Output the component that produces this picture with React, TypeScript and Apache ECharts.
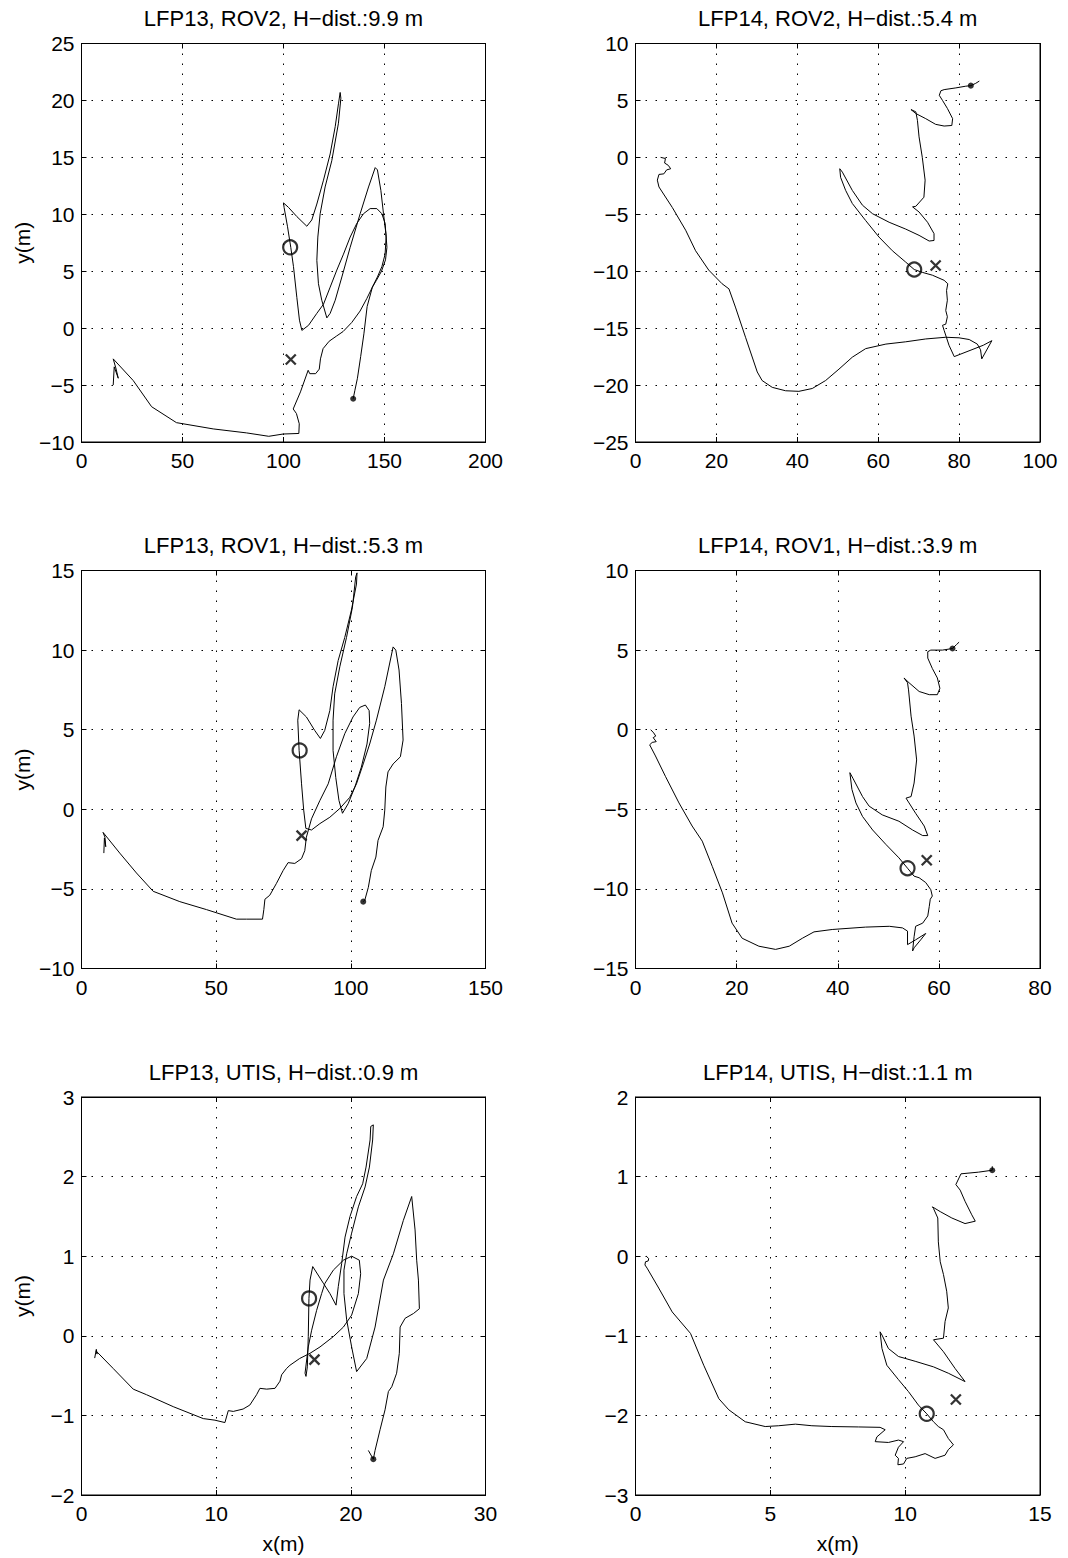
import React, { useEffect, useRef } from 'react';
import * as echarts from 'echarts';

type Pt = [number, number];

// Panel titles, left-to-right, top-to-bottom
const panelTitles = [
  'LFP13, ROV2, H\u2212dist.:9.9 m',
  'LFP14, ROV2, H\u2212dist.:5.4 m',
  'LFP13, ROV1, H\u2212dist.:5.3 m',
  'LFP14, ROV1, H\u2212dist.:3.9 m',
  'LFP13, UTIS, H\u2212dist.:0.9 m',
  'LFP14, UTIS, H\u2212dist.:1.1 m',
];

// Axis ranges: [min, max, step]
const xRanges: number[][] = [[0, 200, 50], [0, 100, 20], [0, 150, 50], [0, 80, 20], [0, 30, 10], [0, 15, 5]];
const yRanges: number[][] = [[-10, 25, 5], [-25, 10, 5], [-10, 15, 5], [-15, 10, 5], [-2, 3, 1], [-3, 2, 1]];

// Tracks (x, y in metres)
const lfp13Rov2: Pt[] = [
  [15.7, -5.0], [16.2, -3.4], [18.2, -4.4], [17.0, -3.5], [15.7, -2.7],
  [25.6, -4.6], [34.7, -6.9], [47.0, -8.3], [65.2, -8.85], [81.7, -9.2], [92.7, -9.5], [99.8, -9.3],
  [107.6, -9.25], [107.8, -8.4], [106.4, -7.5], [104.8, -7.1], [108.4, -5.6], [112.2, -3.7], [113.0, -4.0],
  [115.9, -4.0], [117.7, -3.6], [118.3, -2.7], [119.6, -1.8], [122.6, -1.15], [126.2, -0.7], [129.5, -0.3],
  [133.8, 0.5], [137.9, 1.5], [141.25, 2.6], [144.0, 3.6], [146.5, 4.5], [148.7, 5.4], [150.3, 6.5],
  [150.8, 8.0], [150.3, 9.2], [148.7, 10.05], [146.2, 10.5], [142.9, 10.5], [139.6, 10.05], [136.3, 9.2],
  [133.0, 8.0], [129.7, 6.5], [126.4, 5.1], [123.1, 3.6], [119.8, 2.1], [116.5, 1.3], [112.4, 0.25],
  [109.1, -0.2], [107.9, 0.7], [106.6, 2.7], [104.95, 5.4], [103.6, 7.1], [102.0, 8.9], [100.3, 10.6],
  [100.0, 11.0], [102.5, 10.6], [106.6, 9.8], [111.55, 8.95], [114.0, 9.5], [116.5, 10.9], [119.8, 13.0],
  [123.1, 15.3], [125.6, 17.7], [127.2, 19.7], [128.05, 20.7], [128.4, 20.2], [127.2, 18.0], [123.9, 14.7],
  [120.6, 12.4], [118.15, 10.05], [117.0, 8.0], [116.5, 5.95], [117.3, 3.9], [118.95, 2.45], [121.45, 0.9],
  [123.1, 1.3], [125.6, 2.45], [128.9, 4.5], [133.0, 7.1], [137.95, 10.05], [142.1, 12.4], [145.4, 14.1],
  [146.5, 13.9], [148.2, 12.1], [149.5, 10.05], [150.7, 8.3], [151.2, 7.1], [150.5, 6.0], [148.5, 5.0],
  [146.0, 4.2], [144.0, 3.6], [141.4, 1.9], [139.8, -0.5], [138.2, -2.5], [136.6, -4.4], [135.3, -5.5],
  [134.5, -6.2],
];

const lfp14Rov2: Pt[] = [
  [6.2, 0.0], [7.4, -0.1], [7.2, -0.5], [8.1, -0.7], [8.7, -1.0], [7.7, -1.1], [7.0, -1.45], [5.8, -1.5],
  [5.4, -2.0], [5.8, -2.6], [9.1, -4.4], [12.4, -6.4], [14.85, -8.2], [18.1, -9.9], [21.4, -11.1],
  [23.1, -11.55], [24.7, -13.15], [27.2, -15.8], [30.1, -18.85], [31.3, -19.6], [33.8, -20.2], [37.1, -20.5],
  [40.4, -20.55], [43.7, -20.3], [47.0, -19.6], [50.3, -18.6], [53.6, -17.55], [56.9, -16.8], [61.9, -16.4],
  [66.8, -16.2], [71.75, -15.95], [76.7, -15.8], [80.0, -15.85], [82.5, -16.0], [84.5, -16.4], [85.3, -16.9],
  [85.6, -17.7], [88.1, -16.1], [86.0, -16.5], [78.8, -17.5], [77.5, -16.5], [76.3, -15.2], [75.9, -14.75],
  [76.7, -14.65], [77.1, -14.0], [76.7, -13.45], [77.1, -12.55], [76.9, -11.7], [77.2, -11.1], [76.3, -10.8],
  [73.4, -10.35], [70.9, -10.1], [68.9, -9.85], [66.8, -9.2], [63.5, -8.2], [60.2, -7.0], [56.9, -5.55],
  [53.6, -4.05], [51.95, -2.9], [50.7, -1.75], [50.5, -1.0], [51.15, -1.3], [53.6, -2.9], [56.1, -4.2],
  [58.6, -4.95], [62.7, -5.7], [66.8, -6.3], [70.1, -6.85], [72.6, -7.35], [73.8, -7.3], [73.8, -6.7],
  [72.2, -5.7], [70.1, -4.8], [68.5, -4.35], [69.3, -4.3], [71.3, -3.5], [71.6, -2.0], [70.9, 0.0],
  [70.1, 1.8], [69.7, 3.25], [69.3, 4.0], [68.1, 4.2], [69.3, 3.85], [71.75, 3.4], [74.2, 2.9], [76.3, 2.75],
  [78.2, 2.8], [78.4, 3.4], [77.1, 4.3], [75.9, 5.0], [75.1, 5.45], [75.5, 5.85], [76.3, 5.95], [79.2, 6.1],
  [81.65, 6.25], [82.9, 6.3], [84.1, 6.5], [85.0, 6.7],
];

const lfp13Rov1: Pt[] = [
  [8.3, -2.75], [8.5, -1.8], [9.0, -2.35], [8.7, -1.75], [8.0, -1.45], [14.2, -2.75], [20.4, -4.0],
  [26.6, -5.15], [36.5, -5.8], [46.4, -6.3], [57.5, -6.9], [61.2, -6.9], [67.2, -6.9], [67.7, -6.3],
  [68.1, -5.65], [69.9, -5.4], [72.4, -4.65], [74.85, -3.85], [76.7, -3.35], [79.2, -3.4], [81.7, -3.1],
  [82.9, -2.6], [83.5, -1.75], [85.4, -0.6], [88.5, 0.55], [91.6, 1.6], [94.65, 3.3], [97.75, 4.75],
  [100.8, 5.8], [103.3, 6.4], [105.4, 6.55], [106.8, 6.2], [107.0, 5.4], [106.0, 4.1], [103.9, 2.65],
  [101.5, 1.4], [99.0, 0.35], [96.9, -0.25], [95.6, 0.55], [94.4, 2.0], [93.4, 3.7], [93.4, 5.6],
  [94.0, 7.25], [95.9, 8.95], [98.4, 10.8], [100.6, 12.7], [101.8, 14.6], [102.3, 14.85], [102.1, 14.15],
  [100.2, 12.5], [97.75, 10.8], [95.3, 9.35], [93.4, 7.7], [92.2, 6.2], [90.3, 4.95], [88.7, 4.45],
  [86.6, 4.95], [83.5, 5.8], [80.8, 6.25], [80.3, 5.6], [80.8, 3.7], [81.7, 1.6], [82.5, -0.05],
  [83.3, -1.2], [85.4, -1.3], [88.5, -0.9], [92.2, -0.5], [95.9, 0.05], [99.6, 0.75], [102.1, 1.6],
  [104.6, 2.85], [107.0, 4.1], [109.5, 5.6], [112.6, 7.7], [115.7, 10.2], [116.7, 10.0], [117.9, 8.75],
  [118.8, 6.65], [119.4, 4.35], [118.4, 3.3], [115.7, 2.85], [113.8, 2.35], [113.0, 1.4], [112.6, -0.05],
  [112.0, -1.1], [110.1, -1.95], [109.3, -3.0], [107.6, -3.85], [106.5, -4.9], [105.2, -5.7], [104.6, -5.8],
];

const lfp14Rov1: Pt[] = [
  [3.0, 0.0], [3.6, -0.2], [4.0, -0.4], [3.5, -0.5], [4.1, -0.75], [3.3, -0.8], [2.8, -0.95], [3.95, -1.65],
  [5.95, -2.95], [8.6, -4.6], [11.2, -6.05], [13.2, -7.0], [15.2, -8.6], [17.2, -10.25], [19.1, -12.15],
  [21.1, -13.1], [24.4, -13.6], [27.7, -13.8], [30.4, -13.6], [33.0, -13.1], [35.3, -12.7], [38.9, -12.55],
  [45.5, -12.4], [50.2, -12.35], [52.8, -12.45], [53.8, -12.65], [53.8, -13.5], [55.4, -13.2], [57.4, -12.8],
  [56.4, -13.2], [55.1, -13.7], [54.8, -13.9], [55.1, -13.0], [55.4, -12.35], [56.8, -12.15], [57.8, -11.7],
  [58.1, -11.1], [58.3, -10.65], [58.7, -10.45], [58.4, -10.05], [57.4, -9.6], [56.1, -9.3], [55.1, -9.2],
  [53.8, -8.7], [52.1, -8.05], [49.5, -7.2], [46.9, -6.3], [44.9, -5.45], [43.6, -4.6], [42.8, -3.75],
  [42.4, -2.7], [43.0, -3.05], [44.9, -4.2], [46.2, -4.8], [48.8, -5.35], [52.1, -5.75], [54.8, -6.3],
  [56.8, -6.65], [57.8, -6.65], [57.1, -6.05], [55.4, -5.25], [54.1, -4.6], [53.5, -4.3], [54.5, -4.2],
  [55.1, -3.35], [55.6, -1.9], [55.1, -0.4], [54.5, 0.85], [54.0, 2.5], [53.8, 2.95], [53.1, 3.25],
  [54.1, 2.95], [56.1, 2.4], [58.1, 2.2], [59.7, 2.2], [60.2, 2.6], [59.7, 3.25], [58.7, 3.85], [57.8, 4.5],
  [57.8, 4.9], [58.4, 5.0], [60.7, 5.0], [62.7, 5.1], [63.5, 5.35], [64.0, 5.5],
];

const lfp13Utis: Pt[] = [
  [0.98, -0.28], [1.1, -0.17], [1.16, -0.23], [1.08, -0.19], [2.35, -0.41], [3.84, -0.67], [4.83, -0.74],
  [6.81, -0.89], [9.04, -1.04], [9.91, -1.06], [10.65, -1.09], [10.9, -0.94], [11.27, -0.95], [12.0, -0.92],
  [12.5, -0.87], [13.0, -0.74], [13.25, -0.66], [13.75, -0.67], [14.37, -0.66], [14.74, -0.57], [14.86, -0.49],
  [15.23, -0.41], [15.48, -0.37], [16.2, -0.285], [16.97, -0.22], [17.71, -0.14], [18.7, -0.01], [19.45, 0.11],
  [20.06, 0.26], [20.56, 0.53], [20.73, 0.78], [20.63, 0.95], [20.06, 1.0], [19.45, 0.95], [18.7, 0.825],
  [18.08, 0.66], [17.83, 0.53], [17.46, 0.32], [17.09, 0.07], [16.84, -0.14], [16.6, -0.47], [16.67, -0.51],
  [16.77, -0.39], [16.84, -0.01], [16.89, 0.47], [16.97, 0.7], [17.17, 0.87], [17.96, 0.66], [18.45, 0.53],
  [18.9, 0.385], [19.07, 0.62], [19.32, 0.91], [19.57, 1.24], [19.94, 1.5], [20.43, 1.75], [20.88, 1.91],
  [21.13, 2.12], [21.43, 2.46], [21.48, 2.63], [21.67, 2.65], [21.62, 2.46], [21.38, 2.12], [21.06, 1.87],
  [20.56, 1.62], [20.06, 1.29], [19.69, 1.03], [19.49, 0.825], [19.49, 0.53], [19.69, 0.2], [20.06, -0.14],
  [20.43, -0.45], [21.18, -0.285], [21.8, 0.11], [22.42, 0.7], [23.16, 1.03], [23.9, 1.45], [24.52, 1.75],
  [24.77, 1.33], [24.89, 0.95], [25.02, 0.7], [25.09, 0.34], [24.65, 0.28], [24.03, 0.22], [23.66, 0.11],
  [23.6, -0.22], [23.4, -0.47], [23.04, -0.64], [22.79, -0.7], [22.54, -0.93], [22.17, -1.18], [21.8, -1.44],
  [21.67, -1.55], [21.3, -1.44],
];

const lfp14Utis: Pt[] = [
  [0.4, 0.0], [0.49, -0.03], [0.47, -0.06], [0.37, -0.07], [0.35, -0.11], [0.43, -0.15], [0.86, -0.4],
  [1.36, -0.7], [2.04, -0.97], [2.53, -1.37], [3.09, -1.79], [3.46, -1.93], [4.07, -2.08], [4.81, -2.14],
  [5.31, -2.13], [5.93, -2.11], [6.54, -2.13], [7.28, -2.14], [8.27, -2.145], [9.07, -2.15], [9.26, -2.18],
  [8.95, -2.27], [8.89, -2.33], [9.38, -2.34], [9.75, -2.31], [9.94, -2.33], [9.75, -2.4], [9.63, -2.5],
  [9.75, -2.54], [9.73, -2.62], [9.94, -2.61], [10.06, -2.54], [10.37, -2.52], [10.74, -2.48], [11.11, -2.54],
  [11.48, -2.5], [11.6, -2.43], [11.79, -2.37], [11.6, -2.29], [11.42, -2.18], [11.23, -2.14], [11.05, -2.08],
  [10.8, -1.98], [10.49, -1.87], [10.12, -1.7], [9.75, -1.55], [9.32, -1.37], [9.14, -1.16], [9.07, -0.95],
  [9.14, -0.99], [9.38, -1.16], [9.75, -1.26], [10.37, -1.32], [11.05, -1.39], [11.6, -1.47], [12.22, -1.575],
  [11.85, -1.41], [11.42, -1.2], [11.05, -1.05], [11.42, -1.03], [11.48, -0.82], [11.6, -0.65], [11.54, -0.44],
  [11.42, -0.23], [11.3, -0.07], [11.23, 0.18], [11.21, 0.48], [11.05, 0.6], [11.01, 0.62], [11.3, 0.56],
  [11.73, 0.48], [12.22, 0.41], [12.6, 0.44], [12.47, 0.52], [12.22, 0.69], [12.04, 0.83], [11.88, 0.9],
  [12.07, 1.035], [12.72, 1.056], [13.23, 1.08], [13.23, 1.13],
];

const tracks: Pt[][] = [lfp13Rov2, lfp14Rov2, lfp13Rov1, lfp14Rov1, lfp13Utis, lfp14Utis];

// Marker positions per panel
const circlePts: Pt[] = [[103.3, 7.1], [68.9, -9.85], [81.0, 3.7], [53.8, -8.7], [16.9, 0.47], [10.8, -1.98]];
const crossPts: Pt[] = [[103.6, -2.75], [74.2, -9.5], [81.7, -1.65], [57.6, -8.2], [17.3, -0.3], [11.88, -1.8]];
const dotPts: Pt[] = [[134.5, -6.2], [82.9, 6.3], [104.6, -5.8], [62.7, 5.1], [21.67, -1.55], [13.23, 1.08]];

// Layout (pixels)
const COLS = [{ left: 81.5, width: 404 }, { left: 635.5, width: 404.5 }];
const ROWS = [{ top: 43.5, height: 398.5 }, { top: 570.5, height: 398 }, { top: 1097, height: 398 }];
const FONT = "'Liberation Sans', Arial, Helvetica, sans-serif";
const TICK_FONT = 21;
const TITLE_FONT = 22;

const fmt = (v: number) => (v < 0 ? '\u2212' + String(Math.abs(v)) : String(v));

function buildOption() {
  const grid: any[] = [];
  const xAxis: any[] = [];
  const yAxis: any[] = [];
  const title: any[] = [];
  const series: any[] = [];
  const n = tracks.length;

  const dotted = { color: '#000', width: 1, type: [1.5, 8.5] };

  for (let i = 0; i < n; i++) {
    const col = COLS[i % 2];
    const row = ROWS[Math.floor(i / 2)];
    const [x0, x1, xs] = xRanges[i];
    const [y0, y1, ys] = yRanges[i];
    grid.push({
      left: col.left, top: row.top, width: col.width, height: row.height,
      show: true, borderColor: '#000', borderWidth: 1, backgroundColor: '#fff',
      containLabel: false, outerBoundsMode: 'none',
    });
    title.push({
      text: panelTitles[i],
      left: col.left + col.width / 2,
      top: row.top - 25,
      textAlign: 'center',
      textVerticalAlign: 'middle',
      padding: 0,
      textStyle: { fontSize: TITLE_FONT, fontWeight: 'normal', color: '#000', fontFamily: FONT },
    });
    const isBottom = Math.floor(i / 2) === 2;
    const isLeft = i % 2 === 0;
    xAxis.push({
      gridIndex: i, type: 'value', min: x0, max: x1, interval: xs, position: 'bottom',
      axisLine: { show: true, onZero: false, lineStyle: { color: '#000', width: 1 } },
      axisTick: { show: true, inside: true, length: 5, lineStyle: { color: '#000' } },
      axisLabel: {
        show: true, margin: 8, fontSize: TICK_FONT, color: '#000', fontFamily: FONT,
        showMinLabel: true, showMaxLabel: true, formatter: fmt,
      },
      splitLine: { show: true, lineStyle: dotted },
      name: isBottom ? 'x(m)' : '', nameLocation: 'middle', nameGap: 38,
      nameTextStyle: { fontSize: TICK_FONT, color: '#000', fontFamily: FONT },
    });
    yAxis.push({
      gridIndex: i, type: 'value', min: y0, max: y1, interval: ys, position: 'left',
      axisLine: { show: true, onZero: false, lineStyle: { color: '#000', width: 1 } },
      axisTick: { show: true, inside: true, length: 5, lineStyle: { color: '#000' } },
      axisLabel: {
        show: true, margin: 7, fontSize: TICK_FONT, color: '#000', fontFamily: FONT,
        showMinLabel: true, showMaxLabel: true, formatter: fmt,
      },
      splitLine: { show: true, lineStyle: dotted },
      name: isLeft ? 'y(m)' : '', nameLocation: 'middle', nameGap: 49, nameRotate: 90,
      nameTextStyle: { fontSize: TICK_FONT, color: '#000', fontFamily: FONT },
    });
  }

  // Mirror axes on top/right carry the inward ticks of the box
  for (let i = 0; i < n; i++) {
    const [x0, x1, xs] = xRanges[i];
    const [y0, y1, ys] = yRanges[i];
    xAxis.push({
      gridIndex: i, type: 'value', min: x0, max: x1, interval: xs, position: 'top',
      axisLine: { show: true, onZero: false, lineStyle: { color: '#000', width: 1 } },
      axisTick: { show: true, inside: true, length: 5, lineStyle: { color: '#000' } },
      axisLabel: { show: false }, splitLine: { show: false },
    });
    yAxis.push({
      gridIndex: i, type: 'value', min: y0, max: y1, interval: ys, position: 'right',
      axisLine: { show: true, onZero: false, lineStyle: { color: '#000', width: 1 } },
      axisTick: { show: true, inside: true, length: 5, lineStyle: { color: '#000' } },
      axisLabel: { show: false }, splitLine: { show: false },
    });
  }

  for (let i = 0; i < n; i++) {
    series.push({
      type: 'line', xAxisIndex: i, yAxisIndex: i, data: tracks[i],
      showSymbol: false, symbol: 'none', smooth: false, silent: true,
      lineStyle: { color: '#000', width: 1 }, z: 2,
    });
    series.push({
      type: 'scatter', xAxisIndex: i, yAxisIndex: i, data: [circlePts[i]],
      symbol: 'circle', symbolSize: 14, silent: true, z: 3,
      itemStyle: { color: 'rgba(0,0,0,0)', borderColor: '#000', borderWidth: 2.2 },
    });
    series.push({
      type: 'scatter', xAxisIndex: i, yAxisIndex: i, data: [crossPts[i]],
      symbol: 'path://M0,0L10,10M10,0L0,10', symbolSize: 10, silent: true, z: 3,
      itemStyle: { color: 'none', borderColor: '#000', borderWidth: 2.3 },
    });
    series.push({
      type: 'scatter', xAxisIndex: i, yAxisIndex: i, data: [dotPts[i]],
      symbol: 'circle', symbolSize: 6, silent: true, z: 3,
      itemStyle: { color: '#000' },
    });
  }

  return {
    animation: false,
    backgroundColor: '#fff',
    textStyle: { fontFamily: FONT },
    title, grid, xAxis, yAxis, series,
  };
}

export default function App() {
  const ref = useRef<HTMLDivElement>(null);
  useEffect(() => {
    if (!ref.current) return;
    const chart = echarts.init(ref.current, undefined, { renderer: 'svg' });
    chart.setOption(buildOption() as any);
    return () => chart.dispose();
  }, []);
  return (
    <div
      ref={ref}
      style={{ position: 'absolute', left: 0, top: 0, width: 1068, height: 1558, background: '#fff' }}
    />
  );
}
